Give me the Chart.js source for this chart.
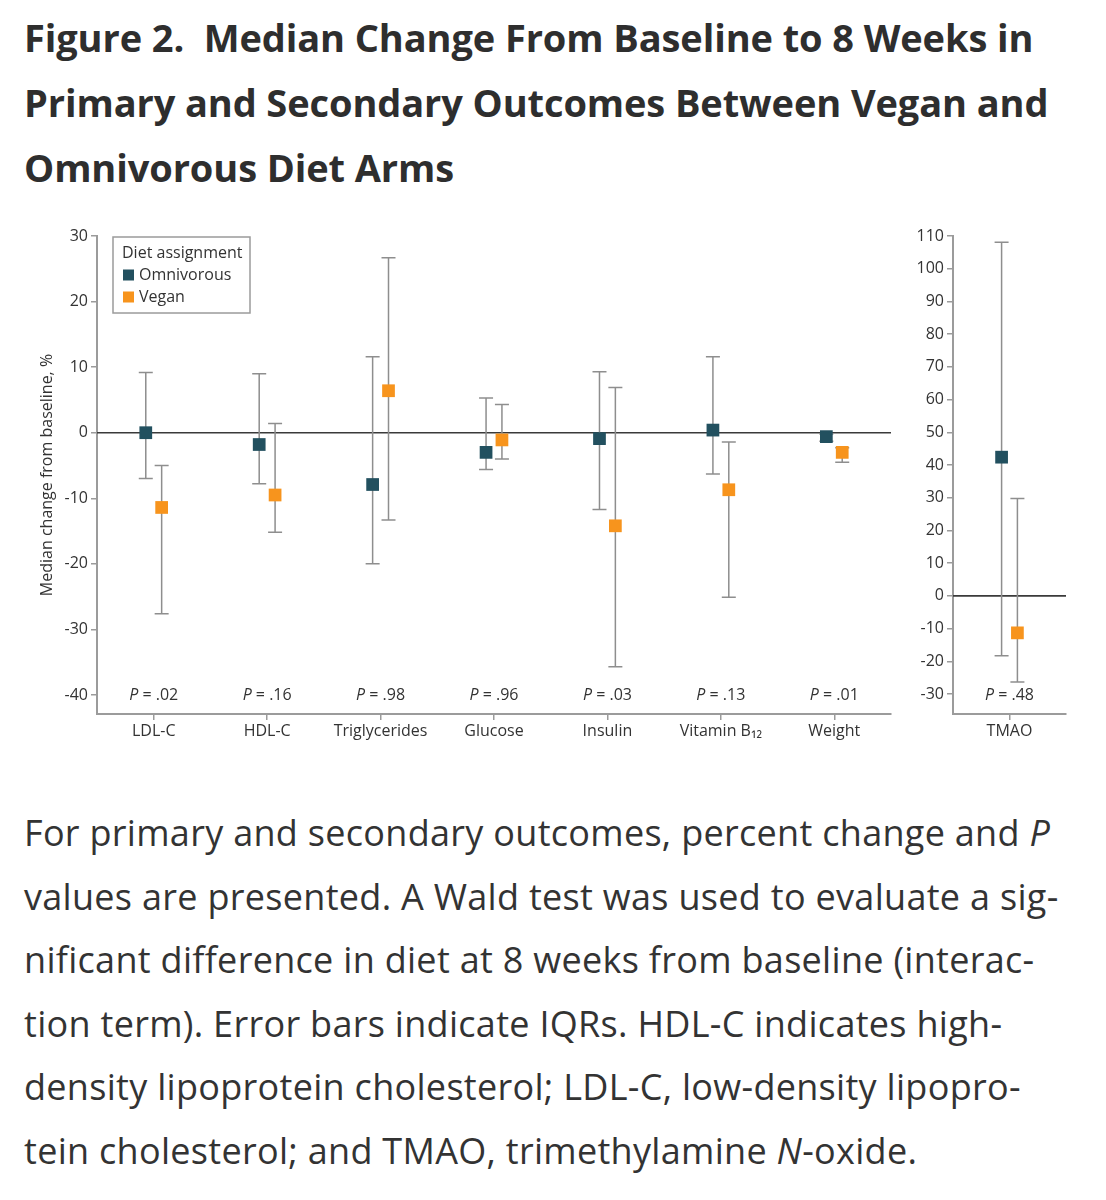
<!DOCTYPE html>
<html>
<head>
<meta charset="utf-8">
<script src="https://cdn.jsdelivr.net/npm/chart.js@4.4.1/dist/chart.umd.min.js"></script>
<style>
  body { margin: 0; background: #fff; width: 1106px; height: 1200px; position: relative; overflow: hidden; }
  #title { position: absolute; left: 24px; top: 5px; font-family: 'Open Sans', sans-serif; font-weight: 700; font-size: 38px; line-height: 65px; color: #2e2e2e; white-space: nowrap; letter-spacing: -0.1px; }
  #mainBox { position: absolute; left: 0; top: 220px; width: 900px; height: 540px; }
  #tmaoBox { position: absolute; left: 895px; top: 220px; width: 211px; height: 540px; }
  #caption { position: absolute; left: 24px; top: 801px; font-family: 'Open Sans', sans-serif; font-size: 36px; line-height: 63.5px; color: #333; white-space: nowrap; letter-spacing: 0.3px; }
</style>
</head>
<body>
<div id="title">Figure 2.&nbsp; Median Change From Baseline to 8 Weeks in<br>Primary and Secondary Outcomes Between Vegan and<br>Omnivorous Diet Arms</div>
<div id="mainBox"><canvas id="main"></canvas></div>
<div id="tmaoBox"><canvas id="tmao"></canvas></div>
<div id="caption">For primary and secondary outcomes, percent change and <i>P</i><br>values are presented. A Wald test was used to evaluate a sig-<br>nificant difference in diet at 8 weeks from baseline (interac-<br>tion term). Error bars indicate IQRs. HDL-C indicates high-<br>density lipoprotein cholesterol; LDL-C, low-density lipopro-<br>tein cholesterol; and TMAO, trimethylamine <i>N</i>-oxide.</div>
<script>
// main panel
const categories = ['LDL-C', 'HDL-C', 'Triglycerides', 'Glucose', 'Insulin', 'Vitamin B₁₂', 'Weight'];
const pValues = ['.02', '.16', '.98', '.96', '.03', '.13', '.01'];
const omniMedian = [0, -1.8, -7.9, -3.0, -0.9, 0.4, -0.6];
const omniLow = [-7.0, -7.8, -20.0, -5.6, -11.7, -6.3, -1.3];
const omniHigh = [9.2, 9.0, 11.6, 5.3, 9.3, 11.6, -0.2];
const veganMedian = [-11.4, -9.5, 6.4, -1.1, -14.2, -8.7, -3.0];
const veganLow = [-27.6, -15.2, -13.3, -4.0, -35.7, -25.1, -4.5];
const veganHigh = [-5.0, 1.4, 26.7, 4.3, 6.9, -1.4, -2.3];
const mainTicks = [-40, -30, -20, -10, 0, 10, 20, 30];

// TMAO panel
const tmaoCategories = ['TMAO'];
const tmaoP = ['.48'];
const tmaoOmniMedian = [42.4];
const tmaoOmniLow = [-18.3];
const tmaoOmniHigh = [108.1];
const tmaoVeganMedian = [-11.3];
const tmaoVeganLow = [-26.3];
const tmaoVeganHigh = [29.8];
const tmaoTicks = [-30, -20, -10, 0, 10, 20, 30, 40, 50, 60, 70, 80, 90, 100, 110];

const OMNI = '#22505f';
const VEGAN = '#f7941d';
const AXIS = '#9b9b9b';
const TEXT = '#333';
const FONT = "'Open Sans', sans-serif";
const DODGE = 0.07;

function points(med, lo, hi, shift) {
  return med.map((v, i) => ({ x: i + shift, y: v, lo: lo[i], hi: hi[i] }));
}

const errorBars = {
  id: 'errorBars',
  beforeDatasetsDraw(chart) {
    const { ctx, chartArea, scales: { x, y } } = chart;
    ctx.save();
    const y0 = y.getPixelForValue(0);
    ctx.strokeStyle = '#3a3a3a';
    ctx.lineWidth = 1.6;
    ctx.beginPath();
    ctx.moveTo(chartArea.left, y0);
    ctx.lineTo(chartArea.right, y0);
    ctx.stroke();
    ctx.strokeStyle = '#8e8e8e';
    ctx.lineWidth = 1.5;
    chart.data.datasets.forEach(ds => {
      ds.data.forEach(p => {
        const px = x.getPixelForValue(p.x);
        const a = y.getPixelForValue(p.lo), b = y.getPixelForValue(p.hi);
        ctx.beginPath();
        ctx.moveTo(px, a); ctx.lineTo(px, b);
        ctx.moveTo(px - 7, a); ctx.lineTo(px + 7, a);
        ctx.moveTo(px - 7, b); ctx.lineTo(px + 7, b);
        ctx.stroke();
      });
    });
    ctx.restore();
  },
  afterDatasetsDraw(chart, args, opts) {
    // P values along the bottom of the plot
    const { ctx, chartArea, scales: { x } } = chart;
    ctx.save();
    ctx.fillStyle = TEXT;
    ctx.textBaseline = 'middle';
    ctx.textAlign = 'left';
    const yy = chartArea.bottom - 19;
    opts.pValues.forEach((p, i) => {
      const px = x.getPixelForValue(i);
      ctx.font = 'italic 16px ' + FONT;
      const w1 = ctx.measureText('P').width;
      ctx.font = '16px ' + FONT;
      const rest = ' = ' + p;
      const w2 = ctx.measureText(rest).width;
      const start = px - (w1 + w2) / 2;
      ctx.font = 'italic 16px ' + FONT;
      ctx.fillText('P', start, yy);
      ctx.font = '16px ' + FONT;
      ctx.fillText(rest, start + w1, yy);
    });
    ctx.restore();
  }
};

const boxLegend = {
  id: 'boxLegend',
  afterDraw(chart, args, opts) {
    if (!opts.show) return;
    const { ctx, chartArea } = chart;
    const left = chartArea.left + 16, top = chartArea.top + 1;
    ctx.save();
    ctx.strokeStyle = AXIS;
    ctx.lineWidth = 1.5;
    ctx.strokeRect(left, top, 137, 76);
    ctx.fillStyle = TEXT;
    ctx.font = '16px ' + FONT;
    ctx.textBaseline = 'middle';
    ctx.fillText('Diet assignment', left + 9, top + 16);
    chart.data.datasets.forEach((ds, i) => {
      const yy = top + 38 + i * 22;
      ctx.fillStyle = ds.backgroundColor;
      ctx.fillRect(left + 10, yy - 5.5, 11, 11);
      ctx.fillStyle = TEXT;
      ctx.fillText(ds.label, left + 26, yy);
    });
    ctx.restore();
  }
};

function makeChart(id, cats, pvals, omni, vegan, yMin, yMax, yTicks, cfg) {
  return new Chart(document.getElementById(id), {
    type: 'scatter',
    data: {
      datasets: [
        { label: 'Omnivorous', data: points(omni[0], omni[1], omni[2], -DODGE), backgroundColor: OMNI, borderColor: OMNI, pointStyle: 'rect', pointRadius: 9, pointBorderWidth: 0 },
        { label: 'Vegan', data: points(vegan[0], vegan[1], vegan[2], DODGE), backgroundColor: VEGAN, borderColor: VEGAN, pointStyle: 'rect', pointRadius: 9, pointBorderWidth: 0 }
      ]
    },
    options: {
      responsive: true,
      maintainAspectRatio: false,
      animation: false,
      layout: { padding: { left: cfg.padLeft, right: cfg.padRight, top: 16, bottom: 0 } },
      plugins: {
        legend: { display: false },
        tooltip: { enabled: false },
        errorBars: { pValues: pvals },
        boxLegend: { show: cfg.legend }
      },
      scales: {
        x: {
          type: 'linear',
          min: -0.5,
          max: cats.length - 0.5,
          afterBuildTicks: a => { a.ticks = cats.map((c, i) => ({ value: i })); },
          afterFit: a => { a.height = 46; },
          grid: { drawOnChartArea: false, color: AXIS, lineWidth: 1.5, tickLength: 6 },
          border: { color: AXIS, width: 2 },
          ticks: { color: TEXT, font: { family: FONT, size: 16 }, padding: 2, maxRotation: 0, autoSkip: false, callback: (v, i) => cats[i] }
        },
        y: {
          min: yMin,
          max: yMax,
          afterBuildTicks: a => { a.ticks = yTicks.map(v => ({ value: v })); },
          afterFit: a => { a.width = cfg.axisWidth; },
          grid: { drawOnChartArea: false, color: AXIS, lineWidth: 1.5, tickLength: 6 },
          border: { color: AXIS, width: 2 },
          ticks: { color: TEXT, font: { family: FONT, size: 16 }, padding: 3 },
          title: { display: !!cfg.yTitle, text: cfg.yTitle, color: TEXT, font: { family: FONT, size: 16 }, padding: 0 }
        }
      }
    },
    plugins: [errorBars, boxLegend]
  });
}

makeChart('main', categories, pValues,
  [omniMedian, omniLow, omniHigh], [veganMedian, veganLow, veganHigh],
  -42.9, 30, mainTicks,
  { padLeft: 38, padRight: 9, axisWidth: 59, yTitle: 'Median change from baseline, %', legend: true });

makeChart('tmao', tmaoCategories, tmaoP,
  [tmaoOmniMedian, tmaoOmniLow, tmaoOmniHigh], [tmaoVeganMedian, tmaoVeganLow, tmaoVeganHigh],
  -36.1, 110, tmaoTicks,
  { padLeft: 0, padRight: 40, axisWidth: 58, yTitle: '', legend: false });
</script>
</body>
</html>
